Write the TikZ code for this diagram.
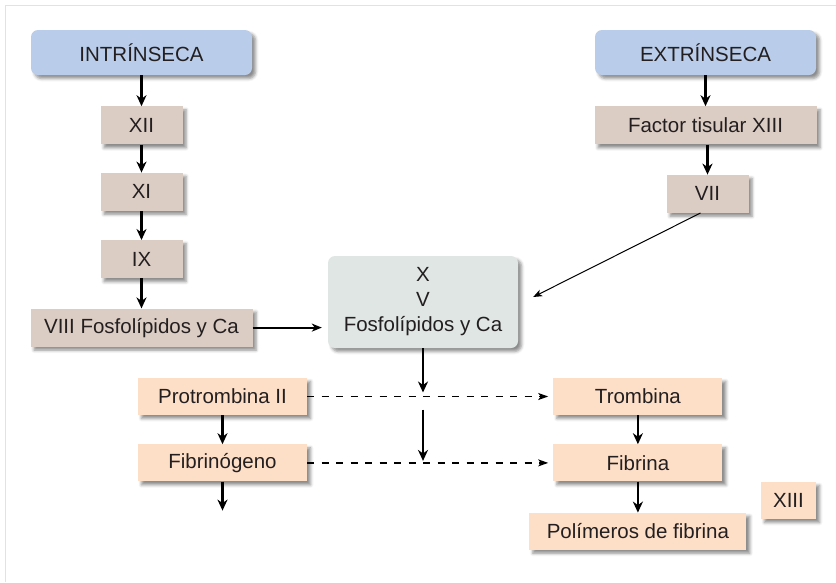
\documentclass[tikz,border=0pt]{standalone}
\usepackage{fontspec}
\setmainfont{Liberation Sans}
\usepackage{xcolor}
\usepackage{tikz}
\usetikzlibrary{arrows.meta, positioning, shadows.blur}

\definecolor{ink}{HTML}{231F20}
\definecolor{pathblue}{HTML}{B9CCE9}
\definecolor{factorbrown}{HTML}{DCCDC4}
\definecolor{centgray}{HTML}{DFE6E4}
\definecolor{prodpeach}{HTML}{FDDFC8}
\definecolor{framecol}{HTML}{FCDDB4}

\begin{document}
\begin{tikzpicture}[
    x=1pt, y=1pt,
    node distance=29pt and 30pt,
    base/.style={rectangle, minimum height=38pt, inner sep=0pt, font=\fontsize{20.5}{25}\selectfont, text=ink, align=center,
        blur shadow={shadow xshift=3.5pt, shadow yshift=-3.5pt, shadow blur radius=3pt, shadow opacity=45}},
    pathbox/.style={base, rounded corners=7pt, fill=pathblue, minimum width=221pt, minimum height=45pt},
    factorbox/.style={base, fill=factorbrown},
    centbox/.style={base, rounded corners=7pt, fill=centgray, minimum width=190pt, minimum height=92pt},
    prodbox/.style={base, fill=prodpeach, minimum height=37pt},
    arrow/.style={-{Stealth[length=11pt, width=10pt, inset=3.5pt]}, line width=2.6pt},
    mid arrow/.style={-{Stealth[length=10pt, width=8pt, inset=3pt]}, line width=2pt},
    thin arrow/.style={-{Stealth[length=9pt, width=7pt, inset=2.5pt]}, line width=1pt},
    dash arrow/.style={-{Stealth[length=10pt, width=7pt, inset=2.5pt]}, line width=1.3pt, dash pattern=on 7pt off 7.5pt}
]
\useasboundingbox (0,0) rectangle (836,-582);

% Frame
\draw[framecol, line width=1.5pt] (5.5,-582) -- (5.5,-5.5) -- (836,-5.5);

% Intrinsic pathway
\node[pathbox] (intr) at (141.5,-52.5) {INTRÍNSECA};
\node[factorbox, minimum width=82pt, below=31pt of intr] (xii) {XII};
\node[factorbox, minimum width=82pt, below=28pt of xii] (xi) {XI};
\node[factorbox, minimum width=82pt, below=29pt of xi] (ix) {IX};
\node[factorbox, minimum width=222pt, below=30pt of ix] (viii) {VIII Fosfolípidos y Ca};

% Extrinsic pathway
\node[pathbox] (extr) at (705.5,-52.5) {EXTRÍNSECA};
\node[factorbox, minimum width=222pt, below=31pt of extr] (tisular) {Factor tisular XIII};
\node[factorbox, minimum width=82pt, below=30pt of tisular, xshift=2pt] (vii) {VII};

% Common pathway
\node[centbox] (xv) at (423,-302) {X\\V\\Fosfolípidos y Ca};

% Products
\node[prodbox, minimum width=169pt] (protro) at (222.5,-396.5) {Protrombina II};
\node[prodbox, minimum width=169pt, below=29pt of protro] (fibrino) {Fibrinógeno};
\node[prodbox, minimum width=169pt, right=246pt of protro] (trombina) {Trombina};
\node[prodbox, minimum width=169pt, below=29pt of trombina] (fibrina) {Fibrina};
\node[prodbox, minimum width=217pt, below=31pt of fibrina] (polim) {Polímeros de fibrina};
\node[prodbox, minimum width=55pt] (xiii) at (788.5,-500.5) {XIII};

% Free ends
\coordinate (mid1) at ([yshift=4pt]xv.south |- protro.east);
\coordinate (mid2) at ([yshift=-13pt]xv.south |- protro.east);
\coordinate (mid3) at ([yshift=2pt]xv.south |- fibrino.east);
\coordinate (fibend) at ([yshift=-29pt]fibrino.south);

% Arrows
\draw[arrow] (intr) -- (xii);
\draw[arrow] (xii) -- (xi);
\draw[arrow] (xi) -- (ix);
\draw[arrow] (ix) -- (viii);
\draw[mid arrow] (viii.east) -- ([xshift=-6pt]viii.east -| xv.west);

\draw[arrow] (extr.south -| tisular.north) -- (tisular.north);
\draw[arrow] (tisular.south -| vii.north) -- (vii.north);
\draw[thin arrow] ([xshift=-7pt]vii.south) -- ([xshift=15pt, yshift=5pt]xv.east);

\draw[arrow] (xv.south) -- (mid1);
\draw[arrow] (mid2) -- (mid3);
\draw[dash arrow] (protro.east) -- ([xshift=-5pt]trombina.west);
\draw[dash arrow] (fibrino.east) -- ([xshift=-5pt]fibrina.west);

\draw[arrow] (protro) -- (fibrino);
\draw[arrow] (fibrino) -- (fibend);
\draw[arrow] (trombina) -- (fibrina);
\draw[arrow] (fibrina) -- (polim);

\end{tikzpicture}
\end{document}
